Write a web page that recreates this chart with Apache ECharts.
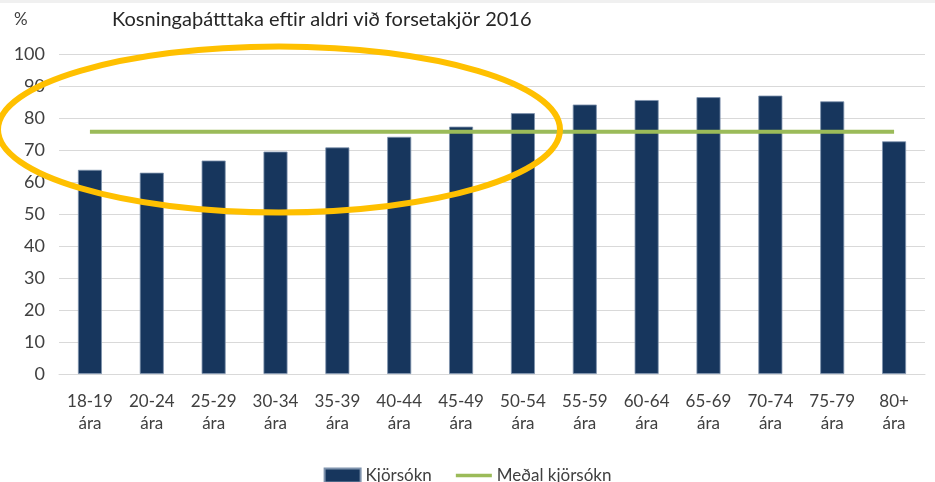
<!DOCTYPE html>
<html>
<head>
<meta charset="utf-8">
<script src="https://cdn.jsdelivr.net/npm/echarts@6/dist/echarts.min.js"></script>
<style>
html,body{margin:0;padding:0;background:#fff;}
#chart{width:935px;height:482px;}
</style>
</head>
<body>
<div id="chart"></div>
<script>
var categories = ['18-19\nára','20-24\nára','25-29\nára','30-34\nára','35-39\nára','40-44\nára','45-49\nára','50-54\nára','55-59\nára','60-64\nára','65-69\nára','70-74\nára','75-79\nára','80+\nára'];
var turnout = [63.8, 62.9, 66.7, 69.5, 70.8, 74.1, 77.3, 81.5, 84.2, 85.6, 86.5, 87.0, 85.2, 72.7];
var averageTurnout = [75.7, 75.7, 75.7, 75.7, 75.7, 75.7, 75.7, 75.7, 75.7, 75.7, 75.7, 75.7, 75.7, 75.7];
var yTicks = {min: 0, max: 100, interval: 10};
var titleText = 'Kosningaþátttaka eftir aldri við forsetakjör 2016';
var unitText = '%';
var seriesNames = ['Kjörsókn', 'Meðal kjörsókn'];

var FONT = 'Lato, "Open Sans", sans-serif';
var chart = echarts.init(document.getElementById('chart'), null, {renderer: 'canvas'});
chart.setOption({
  backgroundColor: '#ffffff',
  animation: false,
  textStyle: {fontFamily: FONT},
  title: [
    {text: titleText, left: 107, top: 5, textStyle: {fontFamily: FONT, fontSize: 20, fontWeight: 'normal', color: '#262626'}},
    {text: unitText, left: 9, top: 6, textStyle: {fontFamily: FONT, fontSize: 17, fontWeight: 'normal', color: '#404040'}}
  ],
  grid: {left: 59, right: 10, top: 54, bottom: 108, containLabel: false},
  legend: {
    data: [
      {name: seriesNames[0], icon: 'rect'},
      {name: seriesNames[1], icon: 'path://M0,0H42V4H0Z'}
    ],
    left: 'center',
    top: 462,
    itemWidth: 36,
    itemHeight: 14,
    itemGap: 24,
    symbolKeepAspect: true,
    textStyle: {fontFamily: FONT, fontSize: 17, color: '#404040'}
  },
  xAxis: {
    type: 'category',
    data: categories,
    axisLine: {show: true, lineStyle: {color: '#d9d9d9', width: 1}},
    axisTick: {show: false},
    axisLabel: {fontFamily: FONT, fontSize: 17, color: '#404040', lineHeight: 22, margin: 17, interval: 0}
  },
  yAxis: {
    type: 'value',
    min: yTicks.min,
    max: yTicks.max,
    interval: yTicks.interval,
    axisLine: {show: false},
    axisTick: {show: false},
    axisLabel: {fontFamily: FONT, fontSize: 18, color: '#404040', margin: 14},
    splitLine: {lineStyle: {color: '#d9d9d9', width: 1}}
  },
  series: [
    {
      name: seriesNames[0],
      type: 'bar',
      data: turnout,
      barWidth: 24,
      itemStyle: {color: '#17365d', borderColor: '#7f93ad', borderWidth: 0.8},
      z: 2
    },
    {
      name: seriesNames[1],
      type: 'line',
      data: averageTurnout,
      symbol: 'none',
      lineStyle: {color: '#9bbb59', width: 4},
      itemStyle: {color: '#9bbb59'},
      z: 3
    }
  ],
  graphic: [
    {type: 'rect', left: 0, top: 0, shape: {width: 935, height: 3}, style: {fill: '#f0f0f0'}, silent: true},
    {type: 'ellipse', shape: {cx: 279, cy: 129.5, rx: 281, ry: 83}, style: {fill: null, stroke: '#ffc000', lineWidth: 6}, z: 100, silent: true}
  ]
});
</script>
</body>
</html>
